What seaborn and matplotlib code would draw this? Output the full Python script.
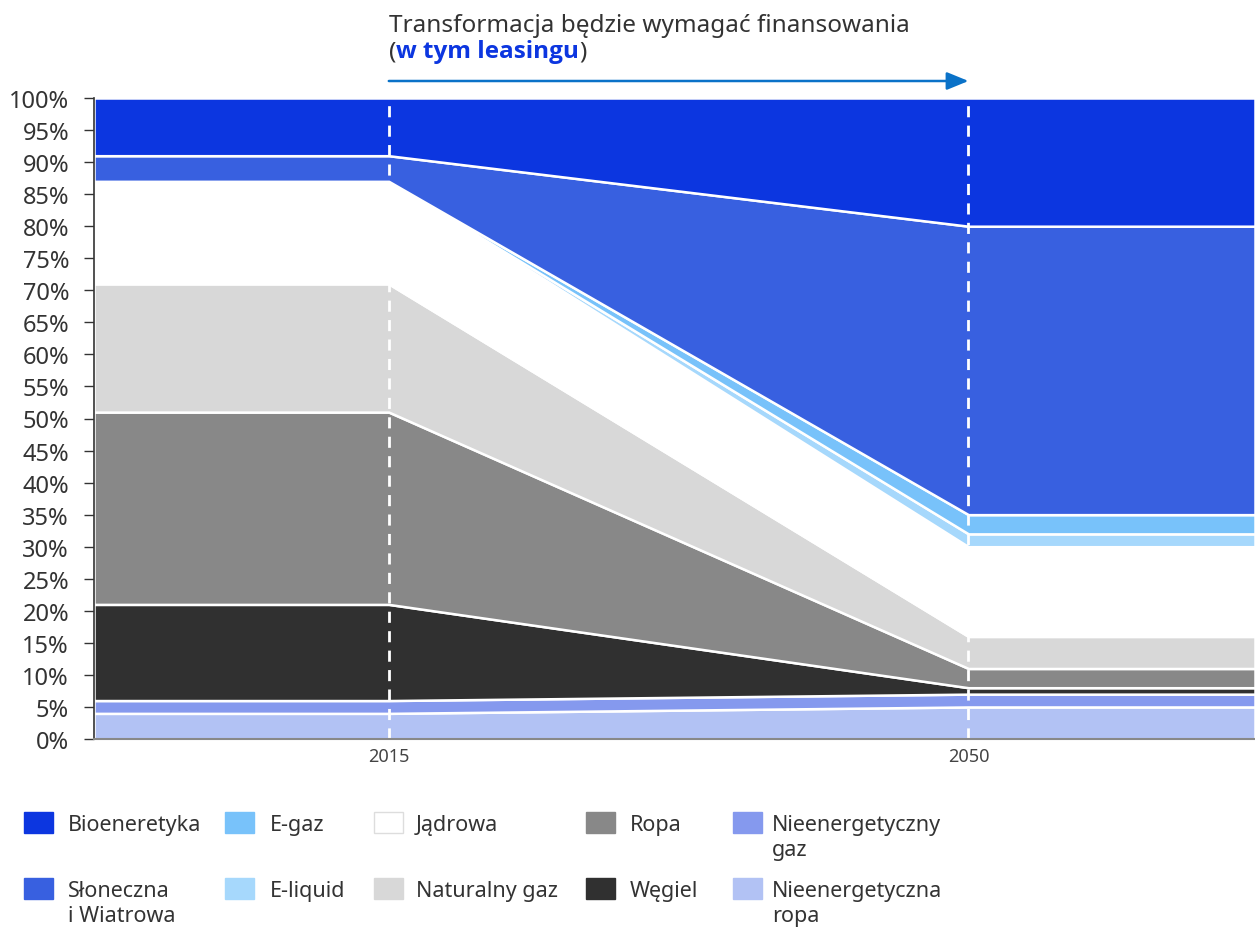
import matplotlib.pyplot as plt
import matplotlib.transforms as mtransforms
from matplotlib.patches import Rectangle
import numpy as np
import seaborn as sns

sns.set_theme(style="white")
plt.rcParams['font.family'] = ['Noto Sans', 'DejaVu Sans']

# layers, bottom -> top (share of total, %)
layers = ["Nieenergetyczna\nropa", "Nieenergetyczny\ngaz", "Węgiel", "Ropa", "Naturalny gaz",
          "Jądrowa", "E-liquid", "E-gaz", "Słoneczna\ni Wiatrowa", "Bioeneretyka"]
share_2015 = [4, 2, 15, 30, 20, 16, 0, 0, 4, 9]
share_2050 = [5, 2, 1, 3, 5, 14, 2, 3, 45, 20]
colors = ["#b2c2f4", "#8599ee", "#303030", "#888888", "#d8d8d8",
          "#ffffff", "#a6d8fc", "#78c2fa", "#3860e0", "#0c36e0"]

years = [1997.2, 2015, 2050, 2067.3]
marked_years = [2015, 2050]

title_line1 = "Transformacja będzie wymagać finansowania"
title_bold = "w tym leasingu"

W, H = 1255, 928
fig = plt.figure(figsize=(W / 100, H / 100), dpi=100)
ax = fig.add_axes([94 / W, (H - 740) / H, (W - 94) / W, (740 - 99) / H])

stack = np.array([[a, a, b, b] for a, b in zip(share_2015, share_2050)])
ax.stackplot(years, stack, colors=colors, edgecolor="white", linewidth=1.8)

for yr in marked_years:
    ax.axvline(yr, color="white", lw=2, ls=(0, (4, 3)))

ax.set_xlim(years[0], years[-1])
ax.set_ylim(0, 100)
ax.set_yticks(range(0, 101, 5))
ax.set_yticklabels([f"{v}%" for v in range(0, 101, 5)], fontsize=17, color="#333333")
ax.set_xticks(marked_years)
ax.set_xticklabels([str(y) for y in marked_years], fontsize=13, color="#444444")
ax.tick_params(axis="y", length=7.5, width=1, color="#333333", pad=10.5, left=True)
ax.tick_params(axis="x", length=0, pad=6)
sns.despine(ax=ax, right=True, top=True)
ax.spines["left"].set_color("#333333")
ax.spines["left"].set_linewidth(1.2)
ax.spines["bottom"].set_color("#888888")
ax.spines["bottom"].set_linewidth(1.5)
ax.grid(False)

# title + arrow above the chart
trans = mtransforms.blended_transform_factory(ax.transData, ax.transAxes)
ax.text(2015, 1 + 67 / 641, title_line1, transform=trans, fontsize=17.5,
        color="#333333", ha="left", va="baseline")
t2 = ax.text(2015, 1 + 41 / 641, "(", transform=trans, fontsize=17.5,
             color="#333333", ha="left", va="baseline")
t3 = ax.annotate(title_bold, xy=(1, 0), xycoords=t2, fontsize=17.5, fontweight="bold",
                 family=["Open Sans", "Lato", "DejaVu Sans"], color="#0c36e0",
                 ha="left", va="bottom")
ax.annotate(")", xy=(1, 0), xycoords=t3, fontsize=17.5, color="#333333",
            ha="left", va="bottom")
ax.annotate("", xy=(2050, 1 + 17 / 641), xytext=(2015, 1 + 17 / 641),
            xycoords=trans, textcoords=trans, annotation_clip=False,
            arrowprops=dict(arrowstyle="-|>,head_length=1.1,head_width=0.45",
                            color="#0a72c8", lw=1.8, shrinkA=0, shrinkB=0))

# legend (two rows, five columns; top layer first)
order = layers[::-1]
order_colors = colors[::-1]
patch_x = [24, 225, 374, 586, 733]
text_x = [68, 270, 416, 630, 772]
row_top = [813, 879]
row_base = [831, 897]
line_pitch = 25
for i, (lab, col) in enumerate(zip(order, order_colors)):
    c, r = i // 2, i % 2
    fig.patches.append(Rectangle((patch_x[c] / W, 1 - (row_top[r] + 21) / H), 29 / W, 21 / H,
                                 transform=fig.transFigure, facecolor=col,
                                 edgecolor="#dddddd" if col == "#ffffff" else col, lw=1))
    for k, line in enumerate(lab.split("\n")):
        fig.text(text_x[c] / W, 1 - (row_base[r] + k * line_pitch) / H, line,
                 fontsize=15.5, color="#333333", ha="left", va="baseline")

fig.savefig("out.png", dpi=100)
